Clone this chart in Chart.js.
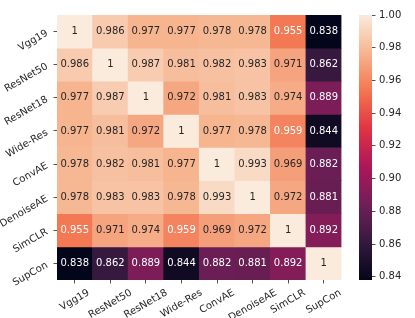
<!DOCTYPE html>
<html>
<head>
<meta charset="utf-8">
<script src="https://cdn.jsdelivr.net/npm/chart.js@4.4.0/dist/chart.umd.min.js"></script>
<style>
body { margin: 0; background: #fff; }
#wrap { position: relative; width: 415px; height: 318px; }
#heat { position: absolute; left: 0; top: 0; }
#cbar { position: absolute; left: 340px; top: 0; }
</style>
</head>
<body>
<div id="wrap">
  <canvas id="heat" width="415" height="318"></canvas>
  <canvas id="cbar" width="75" height="318"></canvas>
</div>
<script>
// modely (stejné pořadí na obou osách)
const models = ['Vgg19', 'ResNet50', 'ResNet18', 'Wide-Res', 'ConvAE', 'DenoiseAE', 'SimCLR', 'SupCon'];

// řádky matice podobnosti
const rowVgg19     = [1, 0.986, 0.977, 0.977, 0.978, 0.978, 0.955, 0.838];
const rowResNet50  = [0.986, 1, 0.987, 0.981, 0.982, 0.983, 0.971, 0.862];
const rowResNet18  = [0.977, 0.987, 1, 0.972, 0.981, 0.983, 0.974, 0.889];
const rowWideRes   = [0.977, 0.981, 0.972, 1, 0.977, 0.978, 0.959, 0.844];
const rowConvAE    = [0.978, 0.982, 0.981, 0.977, 1, 0.993, 0.969, 0.882];
const rowDenoiseAE = [0.978, 0.983, 0.983, 0.978, 0.993, 1, 0.972, 0.881];
const rowSimCLR    = [0.955, 0.971, 0.974, 0.959, 0.969, 0.972, 1, 0.892];
const rowSupCon    = [0.838, 0.862, 0.889, 0.844, 0.882, 0.881, 0.892, 1];

// rozsah a popisky barevné škály
const cbMin = 0.838;
const cbMax = 1.0;
const cbTicks = [0.84, 0.86, 0.88, 0.90, 0.92, 0.94, 0.96, 0.98, 1.00];

const matrix = [rowVgg19, rowResNet50, rowResNet18, rowWideRes, rowConvAE, rowDenoiseAE, rowSimCLR, rowSupCon];

const FONT = '"DejaVu Sans", sans-serif';
const DARK = '#262626';
const ROT = 30 * Math.PI / 180;

// přibližná paleta "rocket"
const rocketStops = [
    [0, [3, 5, 26]], [1 / 7, [53, 25, 62]], [2 / 7, [112, 31, 87]], [3 / 7, [173, 23, 89]],
    [4 / 7, [225, 51, 66]], [5 / 7, [243, 118, 81]], [6 / 7, [246, 180, 143]], [1, [250, 235, 221]]
];

function rocketRgb(t) {
    t = Math.max(0, Math.min(1, t));
    for (let i = 1; i < rocketStops.length; i++) {
        const [t1, c1] = rocketStops[i];
        const [t0, c0] = rocketStops[i - 1];
        if (t <= t1) {
            const f = (t - t0) / (t1 - t0);
            return c0.map((v, k) => Math.round(v + (c1[k] - v) * f));
        }
    }
    return rocketStops[rocketStops.length - 1][1];
}

function cellRgb(v) {
    return rocketRgb((v - cbMin) / (cbMax - cbMin));
}

function rgbStr(c) {
    return `rgb(${c[0]},${c[1]},${c[2]})`;
}

function textColor(c) {
    const lin = c.map(v => {
        v /= 255;
        return v <= 0.03928 ? v / 12.92 : Math.pow((v + 0.055) / 1.055, 2.4);
    });
    const lum = 0.2126 * lin[0] + 0.7152 * lin[1] + 0.0722 * lin[2];
    return lum > 0.408 ? DARK : '#ffffff';
}

function fmt(v) {
    return String(Number(v.toPrecision(3)));
}

const labelPlugin = {
    id: 'labels',
    afterDatasetsDraw(chart) {
        const ctx = chart.ctx;
        ctx.save();
        ctx.font = '10px ' + FONT;
        ctx.textAlign = 'center';
        ctx.textBaseline = 'middle';
        matrix.forEach((row, r) => {
            chart.getDatasetMeta(r).data.forEach((bar, c) => {
                const v = row[c];
                ctx.fillStyle = textColor(cellRgb(v));
                ctx.fillText(fmt(v), bar.x, (bar.y + bar.base) / 2);
            });
        });
        ctx.restore();
    },
    afterDraw(chart) {
        const ctx = chart.ctx;
        const area = chart.chartArea;
        const h = 11.6;
        ctx.save();
        ctx.font = '10px ' + FONT;
        ctx.fillStyle = DARK;
        ctx.textAlign = 'center';
        ctx.textBaseline = 'middle';
        models.forEach((name, i) => {
            const w = ctx.measureText(name).width;
            const H = w * Math.sin(ROT) + h * Math.cos(ROT);
            const W = w * Math.cos(ROT) + h * Math.sin(ROT);
            // popisky osy x (zarovnání na střed, horní okraj pod čárkou)
            const x = chart.scales.x.getPixelForValue(i);
            const top = area.bottom + 7;
            ctx.save();
            ctx.translate(x, top + H / 2);
            ctx.rotate(-ROT);
            ctx.fillText(name, 0, 0);
            ctx.restore();
            // popisky osy y (vpravo zarovnané, svisle podle účaří)
            const y = chart.scales.y.getPixelForValue(i + 0.5);
            const right = area.left - 7;
            ctx.save();
            ctx.translate(right - W / 2, y - 4 + H / 2);
            ctx.rotate(-ROT);
            ctx.fillText(name, 0, 0);
            ctx.restore();
        });
        ctx.restore();
    }
};

const tickGrid = {
    display: true,
    drawOnChartArea: false,
    drawTicks: true,
    tickLength: 3.5,
    offset: false,
    color: DARK,
    lineWidth: 0.8
};

new Chart(document.getElementById('heat'), {
    type: 'bar',
    data: {
        labels: models,
        datasets: matrix.map((row, r) => ({
            data: row.map(() => [r, r + 1]),
            backgroundColor: row.map(v => rgbStr(cellRgb(v))),
            borderWidth: 0,
            barPercentage: 1,
            categoryPercentage: 1,
            grouped: false
        }))
    },
    options: {
        responsive: false,
        animation: false,
        layout: { padding: { top: 15, right: 73.5, left: 0, bottom: 0 } },
        plugins: { legend: { display: false }, tooltip: { enabled: false } },
        scales: {
            x: {
                grid: tickGrid,
                border: { display: false },
                ticks: { display: false },
                afterFit: s => { s.height = 38; }
            },
            y: {
                type: 'linear',
                min: 0,
                max: 8,
                reverse: true,
                grid: tickGrid,
                border: { display: false },
                ticks: { display: false },
                afterBuildTicks: s => { s.ticks = models.map((_, i) => ({ value: i + 0.5 })); },
                afterFit: s => { s.width = 57; }
            }
        }
    },
    plugins: [labelPlugin]
});

new Chart(document.getElementById('cbar'), {
    type: 'bar',
    data: {
        labels: [''],
        datasets: [{
            data: [[cbMin, cbMax]],
            backgroundColor: c => {
                const chart = c.chart;
                if (!chart.chartArea) return null;
                const y0 = chart.scales.y.getPixelForValue(cbMin);
                const y1 = chart.scales.y.getPixelForValue(cbMax);
                const g = chart.ctx.createLinearGradient(0, y0, 0, y1);
                for (let k = 0; k <= 28; k++) {
                    g.addColorStop(k / 28, rgbStr(rocketRgb(k / 28)));
                }
                return g;
            },
            borderWidth: 0,
            barPercentage: 1,
            categoryPercentage: 1
        }]
    },
    options: {
        responsive: false,
        animation: false,
        layout: { padding: { left: 19, top: 15, bottom: 38, right: 0 } },
        plugins: { legend: { display: false }, tooltip: { enabled: false } },
        scales: {
            x: { display: false },
            y: {
                position: 'right',
                min: cbMin,
                max: cbMax,
                border: { display: false },
                grid: { drawOnChartArea: false, tickLength: 3.5, color: DARK, lineWidth: 0.8 },
                ticks: {
                    padding: 3.5,
                    color: DARK,
                    font: { family: FONT, size: 10 },
                    callback: v => v.toFixed(2)
                },
                afterBuildTicks: s => { s.ticks = cbTicks.map(v => ({ value: v })); },
                afterFit: s => { s.width = 43; }
            }
        }
    }
});
</script>
</body>
</html>
